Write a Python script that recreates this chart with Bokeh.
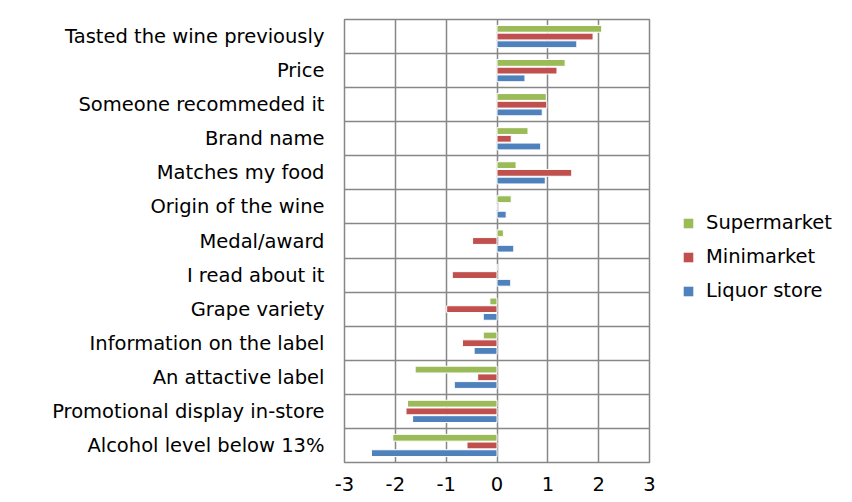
from bokeh.plotting import figure
from bokeh.layouts import row
from bokeh.models import FixedTicker, Legend, LegendItem, ColumnDataSource
from bokeh.embed import file_html
from bokeh.resources import INLINE

categories = ["Tasted the wine previously", "Price", "Someone recommeded it", "Brand name",
              "Matches my food", "Origin of the wine", "Medal/award", "I read about it",
              "Grape variety", "Information on the label", "An attactive label",
              "Promotional display in-store", "Alcohol level below 13%"]
series_names = ["Supermarket", "Minimarket", "Liquor store"]
supermarket = [2.06, 1.34, 0.97, 0.61, 0.375, 0.28, 0.125, 0.0, -0.14, -0.27, -1.61, -1.76, -2.05]
minimarket = [1.89, 1.18, 0.98, 0.28, 1.47, 0.0, -0.48, -0.88, -0.99, -0.68, -0.38, -1.79, -0.59]
liquor_store = [1.57, 0.55, 0.89, 0.86, 0.95, 0.18, 0.33, 0.27, -0.27, -0.45, -0.84, -1.66, -2.47]
x_ticks = [-3, -2, -1, 0, 1, 2, 3]
x_tick_labels = ["-3", "-2", "-1", "0", "1", "2", "3"]

colors = ["#9BBB59", "#C0504D", "#4F81BD"]
FONT = "DejaVu Sans"
FSIZE = "19.5px"
GRID = "#878787"

n = len(categories)
centers = [n - i - 0.5 for i in range(n)]
offsets = [0.226, 0.0, -0.226]

H = 500
p = figure(width=658, height=H, x_range=(-3, 3), y_range=(0, n),
           output_backend="svg", toolbar_location=None,
           min_border_left=344, min_border_right=9, min_border_top=19, min_border_bottom=H - 462)
p.outline_line_color = GRID
p.outline_line_width = 1.5
p.background_fill_color = "white"
p.border_fill_color = "white"

sources = []
for vals, off, col in zip([supermarket, minimarket, liquor_store], offsets, colors):
    src = ColumnDataSource(dict(y=[c + off for c in centers], right=vals, left=[0] * n))
    sources.append(src)
    p.hbar(y="y", left="left", right="right", height=0.2, source=src,
           fill_color=col, line_color="white", line_width=1)

p.xaxis.ticker = FixedTicker(ticks=x_ticks)
p.xaxis.major_label_overrides = {t: lab for t, lab in zip(x_ticks, x_tick_labels)}
p.xaxis.axis_line_color = None
p.xaxis.major_tick_line_color = None
p.xaxis.minor_tick_line_color = None
p.xaxis.major_label_text_font = FONT
p.xaxis.major_label_text_font_size = FSIZE
p.xaxis.major_label_text_color = "black"
p.xaxis.major_label_standoff = 8

p.yaxis.ticker = FixedTicker(ticks=centers)
p.yaxis.major_label_overrides = {c: lab for c, lab in zip(centers, categories)}
p.yaxis.axis_line_color = None
p.yaxis.major_tick_line_color = None
p.yaxis.minor_tick_line_color = None
p.yaxis.major_label_text_font = FONT
p.yaxis.major_label_text_font_size = FSIZE
p.yaxis.major_label_text_color = "black"
p.yaxis.major_label_standoff = 14

p.xgrid.ticker = FixedTicker(ticks=x_ticks)
p.xgrid.grid_line_color = GRID
p.xgrid.grid_line_width = 1.5
p.ygrid.ticker = FixedTicker(ticks=list(range(n + 1)))
p.ygrid.grid_line_color = GRID
p.ygrid.grid_line_width = 1.5

# legend panel (its renderers share the data but are hidden)
p2 = figure(width=186, height=H, output_backend="svg", toolbar_location=None,
            min_border=0, x_range=(10, 11), y_range=(0, n),
            x_axis_location=None, y_axis_location=None)
p2.grid.visible = False
p2.outline_line_color = None
p2.background_fill_color = "white"
p2.border_fill_color = "white"
leg_renderers = []
for src, col in zip(sources, colors):
    r = p2.hbar(y="y", left="left", right="right", height=0.2, source=src,
                fill_color=col, line_color=None)
    r.visible = False
    leg_renderers.append(r)

legend = Legend(items=[LegendItem(label=nm, renderers=[r]) for nm, r in zip(series_names, leg_renderers)],
                location=(24, 160), border_line_color=None, background_fill_alpha=0,
                inactive_fill_alpha=0,
                padding=0, margin=0, spacing=11, label_height=22, glyph_width=12, glyph_height=12,
                label_standoff=12, label_text_font=FONT, label_text_font_size=FSIZE,
                label_text_color="black")
p2.add_layout(legend, "center")

layout = row(p, p2, spacing=0)
open("out.html", "w").write(file_html(layout, INLINE))
